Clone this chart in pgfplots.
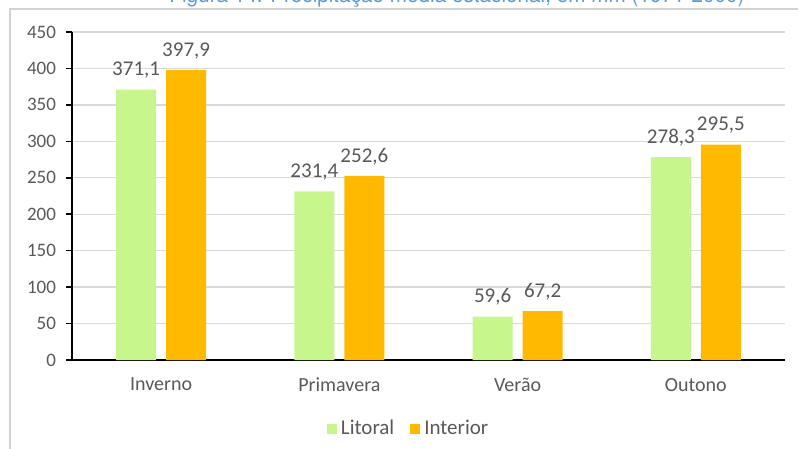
\documentclass[border=0pt]{standalone}
\usepackage{pgfplots}
\usepackage{pgfplotstable}
\pgfplotsset{compat=1.18}
\usepackage{fontspec}
\setmainfont{Carlito}
\newfontfamily\titlefont{TeX Gyre Heros}

\definecolor{litoral}{RGB}{198,246,140}
\definecolor{interior}{RGB}{255,186,0}
\definecolor{labelgray}{RGB}{89,89,89}
\definecolor{gridgray}{RGB}{217,217,217}
\definecolor{framegray}{RGB}{210,210,210}
\definecolor{titleblue}{RGB}{91,155,213}

% Seasonal mean precipitation (mm), 1971-2000
\pgfplotstableread{
idx litoral interior
0   371.1   397.9
1   231.4   252.6
2   59.6    67.2
3   278.3   295.5
}\precip

\begin{document}
\begin{tikzpicture}
\useasboundingbox (0,0) rectangle (399pt,-224.5pt);
\clip (0,0) rectangle (399pt,-224.5pt);
% outer chart frame
\draw[framegray, line width=1pt] (5pt,-260pt) -- (5pt,-4.5pt) -- (430pt,-4.5pt);
% caption
\node[anchor=base, inner sep=0pt, text=titleblue, font=\titlefont]
  at (228.5pt,-1.5pt) {\resizebox{287.5pt}{!}{Figura 14: Precipitação média estacional, em mm (1971-2000)}};
\begin{axis}[
  at={(36pt,-180pt)}, anchor=south west,
  scale only axis, width=356.5pt, height=164pt,
  ybar=5pt, bar width=20pt,
  xmin=-0.5, xmax=3.5, ymin=0, ymax=450,
  xtick={0,1,2,3}, xticklabels={Inverno,Primavera,Verão,Outono},
  ytick={0,50,...,450},
  axis x line*=bottom, axis y line*=left,
  axis line style={black, line width=1pt},
  ymajorgrids, grid style={gridgray, line width=0.7pt},
  x tick style={draw=none},
  y tick style={black, line width=0.8pt},
  tick align=outside, major tick length=3pt,
  tick label style={font=\fontsize{9.5}{11}\selectfont, text=labelgray},
  xticklabel style={yshift=-2.5pt, font=\fontsize{10}{12}\selectfont},
  yticklabel style={xshift=-1.5pt},
  /pgf/number format/assume math mode=true,
  nodes near coords={\pgfmathprintnumber[use comma,fixed,fixed zerofill,precision=1]{\pgfplotspointmeta}},
  nodes near coords style={font=\fontsize{10.5}{12}\selectfont, text=labelgray, yshift=2pt},
  legend style={at={(0.4735,-0.21)}, anchor=center, draw=none, fill=none,
    legend columns=-1, font=\fontsize{10.5}{12}\selectfont, text=labelgray,
    /tikz/every even column/.append style={column sep=6pt}},
  legend image code/.code={\fill[#1] (-1.5pt,-2.5pt) rectangle (3.5pt,2.5pt);},
]
\addplot[draw=none, fill=litoral] table[x=idx, y=litoral] {\precip};
\addplot[draw=none, fill=interior] table[x=idx, y=interior] {\precip};
\legend{Litoral, Interior}
\end{axis}
\end{tikzpicture}
\end{document}
